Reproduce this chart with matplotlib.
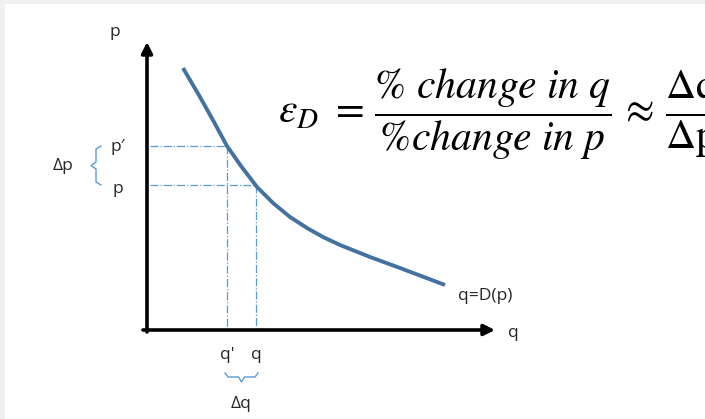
import matplotlib.pyplot as plt
from matplotlib.patches import Rectangle

# demand curve (origin at the axes corner)
curve_q = [36, 53, 67, 80, 94, 110, 126, 143, 160, 176, 193, 223, 253, 298]
curve_p = [262, 233, 208, 184, 164, 143, 127, 113, 102, 93, 85, 73, 62, 45]

q_prime, p_prime = 80, 184
q_base, p_base = 109, 145

axis_q_end = 348
axis_p_end = 288

blue_line = '#44719f'
blue_thin = '#5b9bd5'
txt = '#262626'

plt.rcParams['font.family'] = ['Open Sans', 'DejaVu Sans']
plt.rcParams['mathtext.fontset'] = 'stix'

fig = plt.figure(figsize=(7.05, 4.19), dpi=100, facecolor='#f0f0f0')
fig.patches.append(Rectangle((5 / 705, 0), 1, 1 - 4 / 419, transform=fig.transFigure,
                             facecolor='white', edgecolor='none', zorder=-10))
ax = fig.add_axes([0, 0, 1, 1])
ax.set_xlim(-147, 558)
ax.set_ylim(-89, 330)
ax.axis('off')

# axes with arrows
ax.annotate('', xy=(0, axis_p_end), xytext=(0, -2),
            arrowprops=dict(arrowstyle='-|>', lw=2.6, color='black', mutation_scale=16,
                            shrinkA=0, shrinkB=0))
ax.annotate('', xy=(axis_q_end, 0), xytext=(-4, 0),
            arrowprops=dict(arrowstyle='-|>', lw=2.6, color='black', mutation_scale=16,
                            shrinkA=0, shrinkB=0))

# guide lines
ax.plot([3, q_prime], [p_prime, p_prime], color=blue_thin, lw=0.9, ls='-.')
ax.plot([3, q_base], [p_base, p_base], color=blue_thin, lw=0.9, ls='-.')
ax.plot([q_prime, q_prime], [p_prime, 2], color=blue_thin, lw=0.9, ls='-.')
ax.plot([q_base, q_base], [p_base, 2], color=blue_thin, lw=0.9, ls='-.')

# demand curve
ax.plot(curve_q, curve_p, color=blue_line, lw=2.8, solid_capstyle='butt', solid_joinstyle='round')

# braces
ax.plot([-46, -51, -51, -56, -51, -51, -46],
        [p_prime, p_prime - 3, p_prime - 16, (p_prime + p_base) / 2, p_base + 16, p_base + 3, p_base],
        color=blue_thin, lw=1.0)
ax.plot([q_prime - 2, q_prime + 1, (q_prime + q_base) / 2 - 3, (q_prime + q_base) / 2,
         (q_prime + q_base) / 2 + 3, q_base - 1, q_base + 2],
        [-43, -47, -47, -52, -47, -47, -43],
        color=blue_thin, lw=1.0)

# labels
fs = 12.5
ax.text(-32, 298, 'p', fontsize=fs, color=txt, ha='center', va='center')
ax.text(-29, p_prime - 1, "p\u2032", fontsize=fs, color=txt, ha='center', va='center')
ax.text(-29, p_base - 4, 'p', fontsize=fs, color=txt, ha='center', va='center')
ax.text(-84, (p_prime + p_base) / 2 - 1, '\u0394p', fontsize=fs, color=txt, ha='center', va='center')
ax.text(q_prime, -25, "q'", fontsize=fs, color=txt, ha='center', va='center')
ax.text(q_base, -25, 'q', fontsize=fs, color=txt, ha='center', va='center')
ax.text((q_prime + q_base) / 2, -74, '\u0394q', fontsize=fs, color=txt, ha='center', va='center')
ax.text(338, 34, 'q=D(p)', fontsize=fs, color=txt, ha='center', va='center')
ax.text(366, -3, 'q', fontsize=fs, color=txt, ha='center', va='center')

# formula (cut off at the right edge, as in the original)
ax.text(131, 216,
        r'$\varepsilon_D\ =\,\dfrac{\%\ change\ in\ q}{\%change\ in\ p}\,\approx\,\dfrac{\mathrm{\Delta q}}{\mathrm{\Delta p}}$',
        fontsize=30, color='black', ha='left', va='center')

fig.savefig('out.png', dpi=100, facecolor=fig.get_facecolor())
